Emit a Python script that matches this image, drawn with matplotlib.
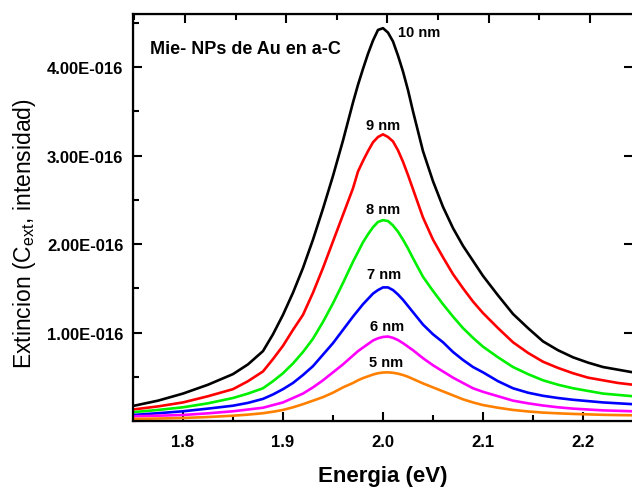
import matplotlib
matplotlib.use("Agg")
import matplotlib.pyplot as plt
from matplotlib.ticker import MultipleLocator

plt.rcParams['font.family'] = ['Liberation Sans', 'DejaVu Sans']
plt.rcParams['mathtext.fontset'] = 'custom'
plt.rcParams['mathtext.rm'] = 'Liberation Sans'

# energy grid (eV) and extinction curves (units of 1e-16)
energy = [1.75, 1.775, 1.80, 1.825, 1.85, 1.865, 1.88, 1.89, 1.90, 1.91, 1.92, 1.93,
          1.94, 1.95, 1.96, 1.97, 1.975, 1.98, 1.985, 1.99, 1.995, 2.00, 2.005, 2.01,
          2.015, 2.02, 2.025, 2.03, 2.04, 2.05, 2.06, 2.07, 2.08, 2.09, 2.10, 2.115,
          2.13, 2.145, 2.16, 2.175, 2.19, 2.205, 2.22, 2.235, 2.25]
ext_10nm = [0.17, 0.23, 0.31, 0.41, 0.53, 0.64, 0.79, 0.98, 1.20, 1.45, 1.73, 2.05,
            2.40, 2.77, 3.17, 3.60, 3.80, 3.98, 4.15, 4.30, 4.42, 4.44, 4.39, 4.29,
            4.13, 3.95, 3.74, 3.50, 3.05, 2.71, 2.42, 2.18, 1.98, 1.81, 1.64, 1.42,
            1.21, 1.05, 0.90, 0.80, 0.72, 0.66, 0.61, 0.58, 0.55]
ext_9nm = [0.13, 0.165, 0.21, 0.28, 0.36, 0.45, 0.56, 0.70, 0.85, 1.03, 1.20, 1.45,
           1.73, 2.03, 2.33, 2.63, 2.82, 2.94, 3.05, 3.15, 3.21, 3.24, 3.21, 3.16,
           3.06, 2.93, 2.78, 2.62, 2.30, 2.05, 1.85, 1.66, 1.50, 1.35, 1.22, 1.05,
           0.89, 0.77, 0.67, 0.60, 0.54, 0.49, 0.46, 0.43, 0.41]
ext_8nm = [0.10, 0.125, 0.155, 0.20, 0.26, 0.31, 0.37, 0.45, 0.54, 0.65, 0.78, 0.93,
           1.12, 1.33, 1.56, 1.80, 1.91, 2.02, 2.11, 2.19, 2.25, 2.27, 2.26, 2.21,
           2.14, 2.05, 1.95, 1.84, 1.63, 1.47, 1.32, 1.18, 1.05, 0.94, 0.84, 0.72,
           0.61, 0.53, 0.46, 0.41, 0.37, 0.34, 0.31, 0.295, 0.28]
ext_7nm = [0.068, 0.088, 0.11, 0.14, 0.173, 0.205, 0.25, 0.30, 0.36, 0.43, 0.52, 0.62,
           0.75, 0.88, 1.03, 1.18, 1.25, 1.32, 1.38, 1.44, 1.48, 1.51, 1.51, 1.48,
           1.43, 1.37, 1.30, 1.23, 1.09, 0.98, 0.89, 0.78, 0.69, 0.61, 0.55, 0.45,
           0.37, 0.32, 0.285, 0.26, 0.24, 0.225, 0.21, 0.20, 0.19]
ext_6nm = [0.053, 0.06, 0.068, 0.087, 0.11, 0.13, 0.15, 0.18, 0.21, 0.26, 0.31, 0.38,
           0.46, 0.55, 0.64, 0.74, 0.79, 0.83, 0.87, 0.91, 0.935, 0.95, 0.955, 0.94,
           0.915, 0.88, 0.84, 0.80, 0.71, 0.63, 0.56, 0.49, 0.43, 0.37, 0.33, 0.28,
           0.23, 0.20, 0.175, 0.155, 0.14, 0.13, 0.12, 0.115, 0.11]
ext_5nm = [0.023, 0.028, 0.034, 0.045, 0.06, 0.072, 0.088, 0.105, 0.125, 0.155, 0.19, 0.23,
           0.27, 0.32, 0.38, 0.43, 0.46, 0.485, 0.505, 0.525, 0.54, 0.548, 0.55, 0.545,
           0.535, 0.52, 0.50, 0.475, 0.425, 0.38, 0.335, 0.29, 0.245, 0.21, 0.18, 0.15,
           0.125, 0.108, 0.095, 0.087, 0.08, 0.075, 0.07, 0.067, 0.065]

series = [ext_10nm, ext_9nm, ext_8nm, ext_7nm, ext_6nm, ext_5nm]
sizes = ['10 nm', '9 nm', '8 nm', '7 nm', '6 nm', '5 nm']
colors = ['black', '#ff0000', '#00f000', '#0000ff', '#ff00ff', '#ff8000']
# label anchor (energy, extinction 1e-16)
label_x = [2.036, 2.000, 2.000, 2.001, 2.004, 2.003]
label_y = [4.40, 3.34, 2.40, 1.66, 1.07, 0.67]

ytick_vals = [1e-16, 2e-16, 3e-16, 4e-16]
ytick_labels = ['1.00E-016', '2.00E-016', '3.00E-016', '4.00E-016']

fig = plt.figure(figsize=(6.32, 4.89), dpi=100)
ax = fig.add_axes([0.2104, 0.137, 0.7912, 0.8323])

for vals, c in zip(series, colors):
    ax.plot(energy, [v * 1e-16 for v in vals], color=c, lw=1.9)

for name, lx, ly in zip(sizes, label_x, label_y):
    ax.text(lx, ly * 1e-16, name, ha='center', va='center',
            fontsize=10.5, fontweight='bold')

ax.text(1.767, 4.21e-16, 'Mie- NPs de Au en a-C', ha='left', va='center',
        fontsize=13, fontweight='bold')

ax.set_xlim(1.75, 2.25)
ax.set_ylim(0, 4.6e-16)
ax.xaxis.set_major_locator(MultipleLocator(0.1))
ax.xaxis.set_minor_locator(MultipleLocator(0.05))
ax.set_yticks(ytick_vals)
ax.set_yticklabels(ytick_labels)
ax.yaxis.set_minor_locator(MultipleLocator(0.5e-16))

for lab in ax.get_xticklabels() + ax.get_yticklabels():
    lab.set_fontweight('bold')
ax.tick_params(which='both', direction='in', width=1.5, labelsize=12,
               right=True)
ax.tick_params(axis='x', pad=9)
ax.tick_params(axis='y', pad=7)
ax.tick_params(which='major', length=6.5)
ax.tick_params(which='minor', length=4, right=False)

for sp in ax.spines.values():
    sp.set_linewidth(1.6)

top = ax.twiny()
top.set_xlim(1.7486, 2.2425)
top.xaxis.set_major_locator(MultipleLocator(0.1))
top.xaxis.set_minor_locator(MultipleLocator(0.05))
top.tick_params(which='both', direction='in', width=1.5, labeltop=False)
top.tick_params(which='major', length=6.5)
top.tick_params(which='minor', length=4)

ax.set_xlabel('Energia (eV)', fontsize=16, fontweight='bold', labelpad=12)
ax.set_ylabel(r'Extincion (C$_{\mathregular{ext}}$, intensidad)', fontsize=16.5)
ax.yaxis.set_label_coords(-0.19, 0.462)

fig.savefig('out.png', dpi=100)
